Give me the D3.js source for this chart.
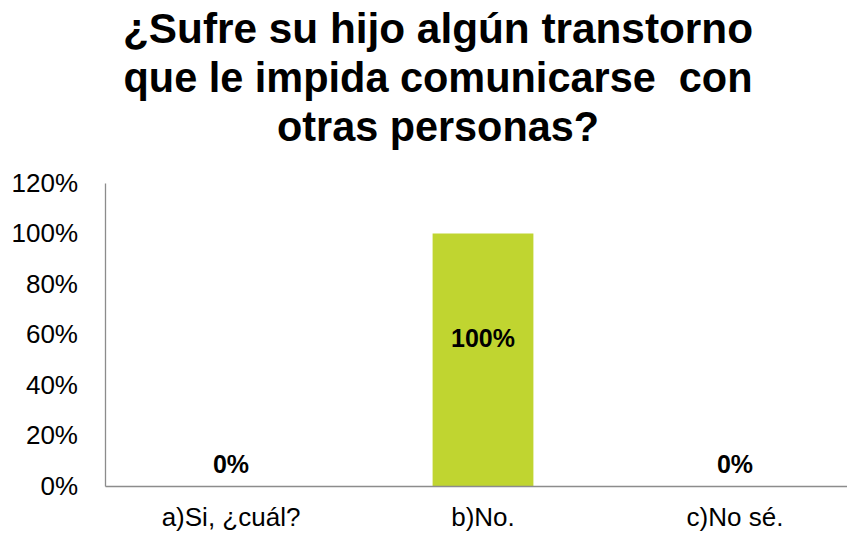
<html>
<head>
  <meta charset="utf-8">
  <script src="https://cdn.jsdelivr.net/npm/d3@7"></script>
  <style>
    body { margin: 0; background: #fff; }
    text { font-family: "Liberation Sans", Arial, sans-serif; fill: #000; }
  </style>
</head>
<body>
  <svg id="chart" width="847" height="539"></svg>
  <script>
  var titleLines = ["¿Sufre su hijo algún transtorno", "que le impida comunicarse  con", "otras personas?"];
  var titleWidths = [630, 629, 322];
  var categories = ["a)Si, ¿cuál?", "b)No.", "c)No sé."];
  var values = [0, 100, 0];
  var yTicks = [0, 20, 40, 60, 80, 100, 120];

  var svg = d3.select('#chart');
  var plotLeft = 105, plotRight = 861, plotTop = 183, plotBottom = 486;

  var x = d3.scaleBand().domain(categories).range([plotLeft, plotRight])
    .paddingInner(0.6).paddingOuter(0.3);
  var y = d3.scaleLinear().domain([0, 120]).range([plotBottom, plotTop]);

  // title (stretched like the original)
  svg.append('g').selectAll('text')
    .data(titleLines)
    .enter().append('text')
    .attr('x', 438)
    .attr('y', function(d, i) { return 43 + i * 49; })
    .attr('text-anchor', 'middle')
    .attr('textLength', function(d, i) { return titleWidths[i]; })
    .attr('lengthAdjust', 'spacingAndGlyphs')
    .style('font-size', '42px')
    .style('font-weight', 'bold')
    .style('white-space', 'pre')
    .text(function(d) { return d; });

  // bars
  svg.append('g').selectAll('rect')
    .data(values)
    .enter().append('rect')
    .attr('x', function(d, i) { return x(categories[i]); })
    .attr('width', x.bandwidth())
    .attr('y', function(d) { return y(d); })
    .attr('height', function(d) { return plotBottom - y(d); })
    .attr('fill', '#c0d530');

  // axes
  var yAxis = svg.append('g')
    .attr('transform', 'translate(' + plotLeft + ',0)')
    .call(d3.axisLeft(y).tickValues(yTicks).tickSize(0).tickPadding(27)
      .tickFormat(function(d) { return d + '%'; }));
  yAxis.select('.domain').attr('stroke', '#8c8c8c').attr('stroke-width', 1.3);
  yAxis.selectAll('text').style('font-size', '26px').attr('fill', '#000')
    .attr('font-family', null);

  var xAxis = svg.append('g')
    .attr('transform', 'translate(0,' + plotBottom + ')')
    .call(d3.axisBottom(x).tickSize(0).tickPadding(22));
  xAxis.select('.domain').attr('stroke', '#8c8c8c').attr('stroke-width', 1.3);
  xAxis.selectAll('text').style('font-size', '26px').attr('fill', '#000')
    .attr('font-family', null);

  // data labels
  svg.append('g').selectAll('text')
    .data(values)
    .enter().append('text')
    .attr('x', function(d, i) { return x(categories[i]) + x.bandwidth() / 2; })
    .attr('y', function(d) { return y(d / 2) - 22; })
    .attr('dy', '0.35em')
    .attr('text-anchor', 'middle')
    .style('font-size', '25px')
    .style('font-weight', 'bold')
    .text(function(d) { return d + '%'; });
  </script>
</body>
</html>
